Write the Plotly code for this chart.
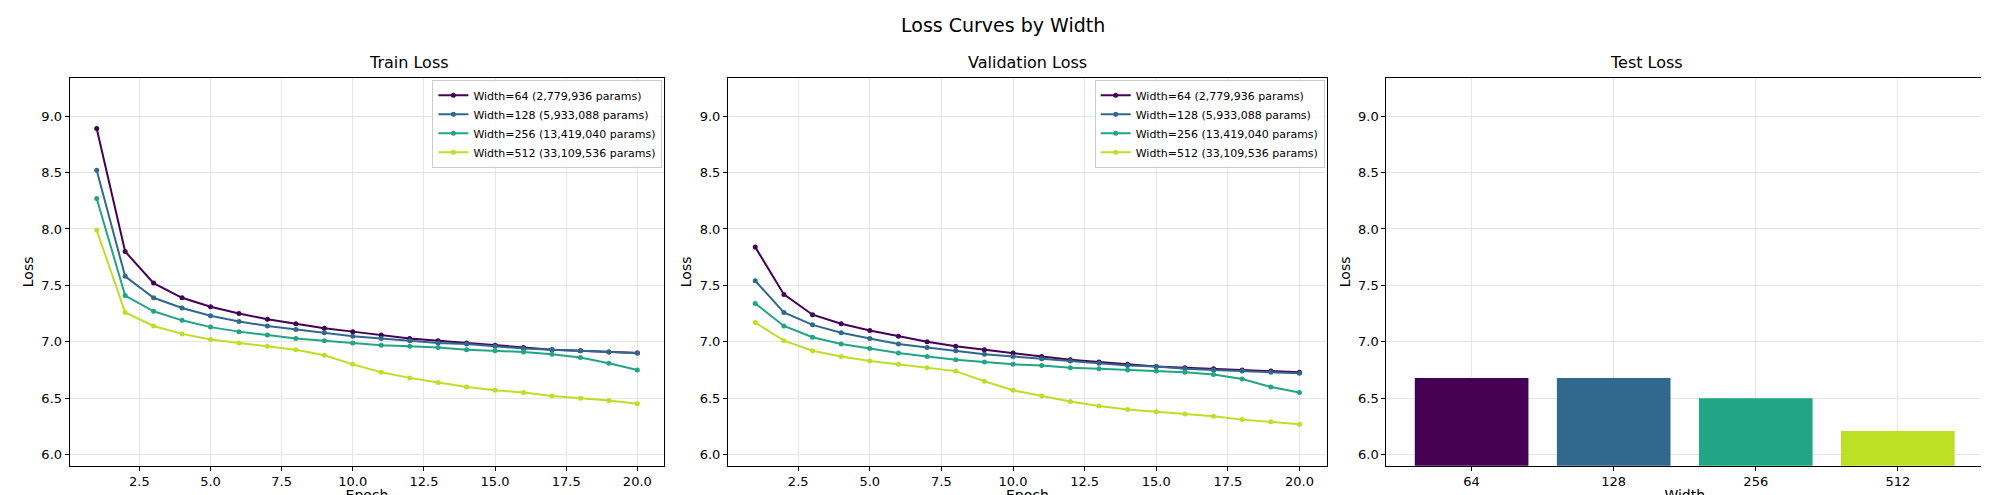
import plotly.graph_objects as go

epochs = list(range(1, 21))
widths = ["64", "128", "256", "512"]
labels = ["Width=64 (2,779,936 params)", "Width=128 (5,933,088 params)",
          "Width=256 (13,419,040 params)", "Width=512 (33,109,536 params)"]
colors = ["#440154", "#31688e", "#21a585", "#bddf26"]

train_64 = [8.89, 7.80, 7.52, 7.39, 7.31, 7.25, 7.20, 7.16, 7.12, 7.09, 7.06, 7.03, 7.01, 6.99, 6.97, 6.95, 6.93, 6.92, 6.91, 6.90]
train_128 = [8.52, 7.58, 7.39, 7.30, 7.23, 7.18, 7.14, 7.11, 7.08, 7.05, 7.03, 7.01, 6.99, 6.98, 6.96, 6.94, 6.93, 6.92, 6.91, 6.90]
train_256 = [8.27, 7.41, 7.27, 7.19, 7.13, 7.09, 7.06, 7.03, 7.01, 6.99, 6.97, 6.96, 6.95, 6.93, 6.92, 6.91, 6.89, 6.86, 6.81, 6.75]
train_512 = [7.99, 7.26, 7.14, 7.07, 7.02, 6.99, 6.96, 6.93, 6.88, 6.80, 6.73, 6.68, 6.64, 6.60, 6.57, 6.55, 6.52, 6.50, 6.48, 6.45]

val_64 = [7.84, 7.42, 7.24, 7.16, 7.10, 7.05, 7.00, 6.96, 6.93, 6.90, 6.87, 6.84, 6.82, 6.80, 6.78, 6.77, 6.76, 6.75, 6.74, 6.73]
val_128 = [7.54, 7.26, 7.15, 7.08, 7.03, 6.98, 6.95, 6.92, 6.89, 6.87, 6.85, 6.83, 6.81, 6.79, 6.78, 6.76, 6.75, 6.74, 6.73, 6.72]
val_256 = [7.34, 7.14, 7.04, 6.98, 6.94, 6.90, 6.87, 6.84, 6.82, 6.80, 6.79, 6.77, 6.76, 6.75, 6.74, 6.73, 6.71, 6.67, 6.60, 6.55]
val_512 = [7.17, 7.01, 6.92, 6.87, 6.83, 6.80, 6.77, 6.74, 6.65, 6.57, 6.52, 6.47, 6.43, 6.40, 6.38, 6.36, 6.34, 6.31, 6.29, 6.27]

test_loss = [6.68, 6.68, 6.50, 6.21]

train = [train_64, train_128, train_256, train_512]
val = [val_64, val_128, val_256, val_512]

fig = go.Figure()
for i in range(4):
    fig.add_trace(go.Scatter(x=epochs, y=train[i], mode="lines+markers", name=labels[i],
                             line=dict(color=colors[i], width=2), marker=dict(size=5, color=colors[i]),
                             xaxis="x", yaxis="y", legend="legend"))
for i in range(4):
    fig.add_trace(go.Scatter(x=epochs, y=val[i], mode="lines+markers", name=labels[i],
                             line=dict(color=colors[i], width=2), marker=dict(size=5, color=colors[i]),
                             xaxis="x2", yaxis="y2", legend="legend2"))
fig.add_trace(go.Bar(x=widths, y=test_loss, marker=dict(color=colors, line=dict(width=0)),
                     width=0.8, showlegend=False, xaxis="x3", yaxis="y3"))

font = dict(family="DejaVu Sans", color="black")
ax = dict(showline=True, linecolor="black", linewidth=1, mirror=True, ticks="outside",
          ticklen=4, tickcolor="black", showgrid=True, gridcolor="#e6e6e6", zeroline=False,
          tickfont=dict(size=13), automargin=False)
yd = [0.075, 0.859]
yr = [5.9, 9.34]
yt = [6.0, 6.5, 7.0, 7.5, 8.0, 8.5, 9.0]
ytt = ["6.0", "6.5", "7.0", "7.5", "8.0", "8.5", "9.0"]
xt = [2.5, 5, 7.5, 10, 12.5, 15, 17.5, 20]
xtt = ["2.5", "5.0", "7.5", "10.0", "12.5", "15.0", "17.5", "20.0"]

def xa(dom, anchor, title):
    return dict(ax, domain=dom, anchor=anchor, range=[0.05, 20.95], tickvals=xt, ticktext=xtt,
                title=dict(text=title, font=dict(size=14), standoff=2))

def ya(anchor):
    return dict(ax, domain=yd, anchor=anchor, range=yr, tickvals=yt, ticktext=ytt,
                title=dict(text="Loss", font=dict(size=14), standoff=4))

leg = dict(bgcolor="rgba(255,255,255,0.8)", bordercolor="#cccccc", borderwidth=1,
           font=dict(size=11), xanchor="right", yanchor="top", tracegroupgap=0, itemwidth=30)

fig.update_layout(
    width=1989, height=495, font=font, plot_bgcolor="white", paper_bgcolor="white",
    margin=dict(l=0, r=0, t=0, b=0), bargap=0.2,
    xaxis=xa([0.031, 0.330], "y", "Epoch"),
    yaxis=ya("x"),
    xaxis2=xa([0.362, 0.663], "y2", "Epoch"),
    yaxis2=ya("x2"),
    xaxis3=dict(ax, domain=[0.693, 0.993], anchor="y3", range=[-0.6, 3.6], type="category",
                title=dict(text="Width", font=dict(size=14), standoff=2)),
    yaxis3=dict(ya("x3")),
    legend=dict(leg, x=0.329, y=0.855),
    legend2=dict(leg, x=0.662, y=0.855),
    annotations=[
        dict(text="Loss Curves by Width", x=0.5, y=0.965, xref="paper", yref="paper",
             showarrow=False, font=dict(size=19), xanchor="center", yanchor="middle"),
        dict(text="Train Loss", x=0.1805, y=0.866, xref="paper", yref="paper",
             showarrow=False, font=dict(size=16), yanchor="bottom"),
        dict(text="Validation Loss", x=0.5125, y=0.866, xref="paper", yref="paper",
             showarrow=False, font=dict(size=16), yanchor="bottom"),
        dict(text="Test Loss", x=0.843, y=0.866, xref="paper", yref="paper",
             showarrow=False, font=dict(size=16), yanchor="bottom"),
    ],
)
fig.write_html("out.html")
